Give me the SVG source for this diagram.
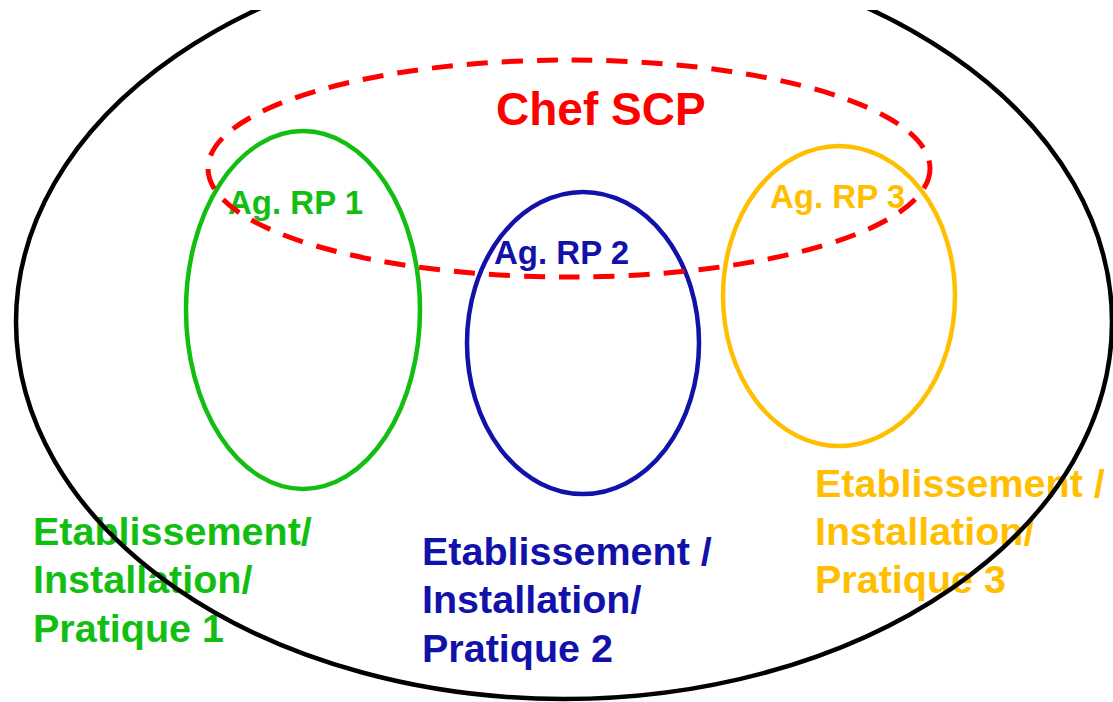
<svg xmlns="http://www.w3.org/2000/svg" width="1113" height="702" viewBox="0 0 1113 702">
<style>
text{font-family:"Liberation Sans",Arial,sans-serif;font-weight:bold}
.ring{fill:none;stroke-width:4.5}
.green{fill:#13BE13}
.blue{fill:#1212AA}
.yellow{fill:#FFBF00}
.red{fill:#FF0000}
.lbl{font-size:33px}
.big{font-size:39.5px}
</style>
<defs>
<clipPath id="clipTop"><rect x="0" y="10" width="1113" height="692"/></clipPath>
</defs>
<rect width="1113" height="702" fill="#fff"/>
<g id="rp1">
<ellipse class="ring" cx="303" cy="310" rx="117" ry="179" stroke="#13BE13"/>
<text class="green lbl" x="228" y="214">Ag. RP 1</text>
<text class="green big" x="33" y="545">Etablissement/</text>
<text class="green big" x="33" y="593">Installation/</text>
<text class="green big" x="33" y="642">Pratique 1</text>
</g>
<g id="rp2">
<ellipse class="ring" cx="583" cy="343" rx="116" ry="151" stroke="#1212AA"/>
<text class="blue lbl" x="494" y="264">Ag. RP 2</text>
<text class="blue big" x="422" y="565">Etablissement /</text>
<text class="blue big" x="422" y="613">Installation/</text>
<text class="blue big" x="422" y="662">Pratique 2</text>
</g>
<g id="rp3">
<ellipse class="ring" cx="839" cy="296" rx="116" ry="150" stroke="#FFBF00"/>
<text class="yellow lbl" x="770" y="208">Ag. RP 3</text>
<text class="yellow big" x="815" y="497">Etablissement /</text>
<text class="yellow big" x="815" y="545">Installation/</text>
<text class="yellow big" x="815" y="593">Pratique 3</text>
</g>
<g id="chef">
<ellipse cx="569" cy="168.5" rx="361" ry="108.5" fill="none" stroke="#FF0000" stroke-width="5" stroke-dasharray="21 14"/>
<text class="red" x="496" y="125" font-size="46">Chef SCP</text>
</g>
<g id="scope" clip-path="url(#clipTop)">
<ellipse cx="564" cy="322" rx="548" ry="377" fill="none" stroke="#000" stroke-width="4.5"/>
</g>
<g id="connectors"/>
</svg>
